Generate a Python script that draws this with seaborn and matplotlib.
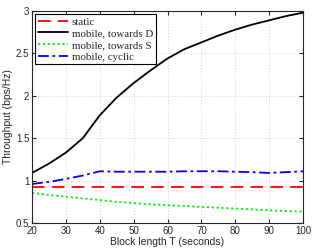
import matplotlib
matplotlib.use("Agg")
import matplotlib.pyplot as plt
import numpy as np
import pandas as pd
import seaborn as sns

# block lengths T (seconds)
block_len = [20, 25, 30, 35, 40, 45, 50, 55, 60, 65, 70, 75, 80, 85, 90, 95, 100]

static = [0.925] * 17
towards_d = [1.09, 1.20, 1.33, 1.50, 1.77, 1.98, 2.15, 2.30, 2.44, 2.55, 2.63, 2.71, 2.78, 2.84, 2.89, 2.94, 2.98]
towards_s = [0.855, 0.83, 0.81, 0.79, 0.77, 0.75, 0.735, 0.72, 0.71, 0.70, 0.69, 0.68, 0.67, 0.66, 0.65, 0.64, 0.635]
cyclic = [0.96, 0.985, 1.02, 1.06, 1.11, 1.105, 1.105, 1.105, 1.105, 1.11, 1.11, 1.11, 1.105, 1.10, 1.09, 1.10, 1.11]

labels = ["static", "mobile, towards D", "mobile, towards S", "mobile, cyclic"]
colors = ["#ff0000", "#000000", "#00ee00", "#0000ff"]

df = pd.DataFrame({"T": block_len * 4,
                   "thr": static + towards_d + towards_s + cyclic,
                   "scheme": np.repeat(labels, len(block_len))})

sns.set_style("ticks")
plt.rcParams['font.family'] = ['Liberation Sans', 'DejaVu Sans']

fig = plt.figure(figsize=(3.13, 2.49), dpi=100)
ax = fig.add_axes([32 / 313, 1 - 223 / 249, 271 / 313, 212 / 249])

styles = [(0, (7, 4)), "-", (0, (1.2, 1.5)), (0, (6, 2, 1.5, 2))]
for lab, col, ls in zip(labels, colors, styles):
    sub = df[df.scheme == lab]
    sns.lineplot(data=sub, x="T", y="thr", color=col, linestyle=ls,
                 linewidth=1.3, ax=ax, label=lab)

ax.set_xlim(20, 100)
ax.set_ylim(0.5, 3)
ax.set_xticks(range(20, 101, 10))
ax.set_yticks([0.5, 1, 1.5, 2, 2.5, 3])
ax.set_yticklabels(["0.5", "1", "1.5", "2", "2.5", "3"])
ax.grid(True, linestyle=(0, (1, 2.5)), color="#c0c0c0", linewidth=0.6)
ax.tick_params(labelsize=7, direction="in", length=3, pad=2, top=True, right=True)
for s in ax.spines.values():
    s.set_linewidth(0.8)
ax.set_xlabel("Block length T (seconds)", fontsize=7.5, labelpad=1)
ax.set_ylabel("Throughput (bps/Hz)", fontsize=7.5, labelpad=2)

leg = ax.legend(loc="upper left", prop={"family": "Liberation Serif", "size": 7.8},
                frameon=True, fancybox=False, edgecolor="black", framealpha=1,
                borderpad=0.25, labelspacing=0.2, handlelength=2.8, handletextpad=0.3,
                borderaxespad=0.3)
leg.get_frame().set_linewidth(0.8)

fig.savefig("out.png", dpi=100)
